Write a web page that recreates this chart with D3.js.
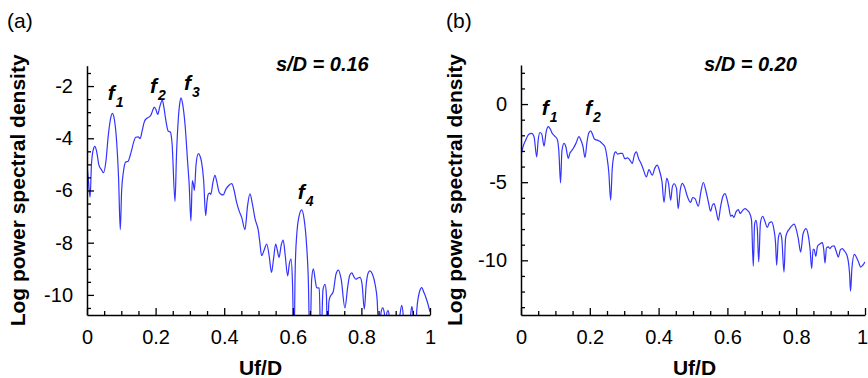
<!DOCTYPE html>
<html>
<head>
<meta charset="utf-8">
<script src="https://cdn.jsdelivr.net/npm/d3@7"></script>
<style>
  html, body { margin: 0; padding: 0; background: #fff; }
  svg { display: block; }
  text { font-family: "Liberation Sans", Arial, Helvetica, sans-serif; fill: #000; }
</style>
</head>
<body>
<svg id="chart" width="868" height="378"></svg>
<script>
// Spectrum for s/D = 0.16 (frequency Uf/D, log power spectral density)
const freqA = [
  0.000, 0.004, 0.009, 0.013, 0.018, 0.023, 0.028, 0.035, 0.042, 0.048,
  0.055, 0.062, 0.068, 0.074, 0.080, 0.0865, 0.092, 0.097, 0.101, 0.106,
  0.113, 0.120, 0.125, 0.130, 0.136, 0.142, 0.149, 0.155, 0.161, 0.167,
  0.173, 0.179, 0.186, 0.191, 0.196, 0.201, 0.206, 0.212, 0.2196, 0.224,
  0.229, 0.237, 0.243, 0.248, 0.2566, 0.261, 0.266, 0.270, 0.274, 0.279,
  0.286, 0.2935, 0.298, 0.303, 0.307, 0.310, 0.313, 0.318, 0.3246, 0.330,
  0.334, 0.340, 0.346, 0.350, 0.354, 0.358, 0.361, 0.367, 0.373, 0.379,
  0.385, 0.391, 0.397, 0.405, 0.414, 0.422, 0.429, 0.436, 0.444, 0.451,
  0.4606, 0.468, 0.475, 0.482, 0.490, 0.4995, 0.504, 0.509, 0.516, 0.524,
  0.531, 0.538, 0.544, 0.550, 0.555, 0.560, 0.566, 0.572, 0.578, 0.585,
  0.590, 0.595, 0.599, 0.6035, 0.607, 0.612, 0.618, 0.626, 0.633, 0.640,
  0.645, 0.650, 0.655, 0.660, 0.665, 0.6696, 0.677, 0.682, 0.688, 0.694,
  0.698, 0.701, 0.705, 0.708, 0.718, 0.726, 0.733, 0.741, 0.752, 0.760,
  0.766, 0.772, 0.778, 0.784, 0.790, 0.796, 0.802, 0.8085, 0.814, 0.820,
  0.825, 0.832, 0.840, 0.846, 0.852, 0.857, 0.862, 0.867, 0.870, 0.874,
  0.8775, 0.881, 0.885, 0.900, 0.912, 0.9175, 0.922, 0.926, 0.943, 0.947,
  0.951, 0.955, 0.962, 0.970, 0.976, 0.982, 0.988, 0.994, 1.000
];
const psdA = [
  -5.0, -5.6, -6.26, -5.0, -4.45, -4.31, -4.5, -5.04, -5.2, -5.32,
  -4.9, -3.9, -3.3, -3.05, -3.3, -4.14, -5.5, -7.5, -6.0, -5.3,
  -4.91, -4.88, -4.7, -4.46, -4.15, -3.96, -3.95, -4.01, -3.7, -3.37,
  -3.25, -3.2, -3.12, -2.95, -2.81, -2.9, -3.09, -2.8, -2.54, -2.8,
  -3.24, -3.73, -3.76, -4.2, -6.42, -4.6, -3.3, -2.7, -2.45, -2.7,
  -3.5, -4.94, -5.8, -7.17, -5.62, -5.75, -6.0, -5.0, -4.59, -4.7,
  -4.91, -5.6, -6.96, -6.4, -6.13, -6.1, -6.15, -5.7, -5.42, -5.7,
  -6.06, -6.15, -6.17, -5.95, -5.8, -5.74, -6.0, -6.45, -6.8, -7.03,
  -7.5, -6.6, -6.13, -6.5, -7.09, -7.54, -8.0, -8.5, -8.3, -8.05,
  -8.5, -9.14, -8.6, -8.05, -8.3, -8.56, -8.1, -7.9, -8.5, -9.27,
  -8.8, -8.63, -9.5, -12.0, -9.0, -7.6, -7.0, -6.74, -7.1, -8.05,
  -9.3, -12.0, -9.4, -9.0, -9.4, -9.72, -9.74, -12.0, -9.8, -9.6,
  -10.0, -12.0, -10.3, -10.1, -9.87, -9.2, -9.05, -9.4, -10.5, -9.7,
  -9.25, -9.16, -9.3, -9.4, -9.35, -9.33, -9.6, -10.55, -9.6, -9.15,
  -9.08, -9.2, -9.6, -10.2, -12.0, -10.7, -10.5, -10.7, -12.0, -10.7,
  -10.6, -10.8, -12.0, -12.0, -10.8, -10.4, -10.8, -12.0, -10.8, -10.45,
  -10.8, -12.0, -10.5, -9.85, -9.72, -9.9, -10.1, -10.35, -10.65
];

// Spectrum for s/D = 0.20
const freqB = [
  0.000, 0.005, 0.0136, 0.022, 0.031, 0.038, 0.0456, 0.050, 0.055, 0.060,
  0.067, 0.073, 0.0794, 0.085, 0.091, 0.098, 0.1055, 0.110, 0.115, 0.119,
  0.125, 0.130, 0.1376, 0.142, 0.147, 0.153, 0.160, 0.1686, 0.174, 0.180,
  0.186, 0.192, 0.197, 0.2026, 0.208, 0.214, 0.222, 0.230, 0.237, 0.244,
  0.250, 0.255, 0.2607, 0.265, 0.270, 0.275, 0.281, 0.288, 0.2946, 0.302,
  0.310, 0.317, 0.3236, 0.329, 0.3353, 0.342, 0.349, 0.356, 0.3644, 0.372,
  0.3817, 0.389, 0.396, 0.403, 0.410, 0.4157, 0.4235, 0.429, 0.435, 0.440,
  0.445, 0.452, 0.457, 0.463, 0.469, 0.476, 0.482, 0.488, 0.493, 0.499,
  0.506, 0.5155, 0.523, 0.530, 0.537, 0.545, 0.551, 0.556, 0.561, 0.567,
  0.5736, 0.580, 0.587, 0.593, 0.599, 0.604, 0.6096, 0.614, 0.619, 0.625,
  0.6317, 0.637, 0.643, 0.651, 0.658, 0.664, 0.670, 0.6753, 0.679, 0.683,
  0.687, 0.691, 0.696, 0.7026, 0.709, 0.716, 0.722, 0.7287, 0.735, 0.740,
  0.7432, 0.748, 0.7529, 0.758, 0.7645, 0.769, 0.7723, 0.780, 0.787, 0.7936,
  0.800, 0.806, 0.813, 0.820, 0.8285, 0.835, 0.840, 0.845, 0.849, 0.852,
  0.857, 0.862, 0.869, 0.876, 0.880, 0.8837, 0.888, 0.8934, 0.898, 0.904,
  0.910, 0.916, 0.9225, 0.928, 0.934, 0.940, 0.946, 0.951, 0.955, 0.958,
  0.962, 0.969, 0.975, 0.981, 0.9875, 0.994, 1.000
];
const psdB = [
  -3.3, -2.8, -2.31, -1.95, -1.88, -2.1, -3.38, -2.3, -1.82, -1.9,
  -2.69, -1.8, -1.45, -1.6, -1.88, -2.05, -2.26, -3.0, -5.04, -3.0,
  -2.52, -2.7, -3.48, -3.15, -2.99, -2.8, -2.5, -2.09, -2.3, -2.7,
  -3.42, -2.4, -1.85, -1.71, -1.95, -2.25, -2.31, -2.4, -2.55, -2.74,
  -3.4, -4.3, -6.15, -4.2, -3.3, -3.06, -3.2, -3.15, -3.16, -3.5,
  -3.45, -3.6, -3.8, -3.3, -3.06, -3.5, -3.8, -4.2, -4.66, -4.2,
  -4.55, -4.1, -3.91, -4.3, -5.0, -6.3, -4.76, -5.1, -6.15, -5.3,
  -5.1, -5.4, -6.69, -5.5, -5.08, -5.35, -5.8, -6.15, -6.3, -5.98,
  -6.05, -6.54, -5.6, -5.02, -5.5, -6.3, -6.86, -6.5, -6.37, -6.8,
  -7.44, -6.6, -5.9, -5.73, -6.1, -6.6, -7.18, -7.1, -7.25, -6.9,
  -6.75, -7.0, -6.85, -6.69, -6.8, -6.95, -7.4, -10.38, -7.7, -7.44,
  -8.0, -10.1, -7.6, -7.18, -7.5, -7.9, -7.6, -7.54, -8.0, -8.9,
  -10.32, -8.6, -8.25, -8.6, -10.75, -8.6, -8.29, -8.0, -7.8, -7.69,
  -8.0, -8.6, -9.47, -8.3, -7.97, -8.4, -9.2, -10.53, -9.3, -9.3,
  -9.75, -9.1, -8.95, -8.87, -9.3, -10.17, -9.2, -9.14, -9.25, -9.1,
  -9.08, -9.4, -9.79, -9.35, -9.25, -9.4, -9.6, -10.0, -10.8, -11.97,
  -10.5, -9.62, -9.8, -10.1, -10.43, -10.3, -10.1
];

// Axis ticks
const xMajorTicks = [0, 0.2, 0.4, 0.6, 0.8, 1];
const yMajorTicksA = [-10, -8, -6, -4, -2];
const yMajorTicksB = [-10, -5, 0];

// Peak annotations: subscript, frequency, level
const peaksA = [
  { sub: "1", x: 0.0603, y: -2.54 },
  { sub: "2", x: 0.1837, y: -2.27 },
  { sub: "3", x: 0.2828, y: -2.15 },
  { sub: "4", x: 0.6143, y: -6.31 }
];
const peaksB = [
  { sub: "1", x: 0.0602, y: -0.705 },
  { sub: "2", x: 0.186, y: -0.705 }
];

const svg = d3.select("#chart");
const lineColor = "#3333ff";

function panel(cfg) {
  const { left, right, top, bottom, yDomain, yMajor, yMinorStep, freq, psd,
          peaks, tag, tagX, caption, captionX, captionY, titleX, xTitleX, id } = cfg;

  const x = d3.scaleLinear().domain([0, 1]).range([left, right]);
  const y = d3.scaleLinear().domain(yDomain).range([bottom, top]);

  // clip the curve to the plotting rectangle
  svg.append("clipPath").attr("id", id)
    .append("rect").attr("x", left).attr("y", top)
    .attr("width", right - left).attr("height", bottom - top);

  const pts = freq.map((f, i) => [f, psd[i]]);
  const line = d3.line().x(d => x(d[0])).y(d => y(d[1])).curve(d3.curveMonotoneX);
  svg.append("path")
    .attr("clip-path", `url(#${id})`)
    .attr("d", line(pts))
    .attr("fill", "none")
    .attr("stroke", lineColor)
    .attr("stroke-width", 1.2)
    .attr("stroke-linejoin", "round");

  // minor ticks
  const xMinor = d3.range(0, 1.0001, 0.05).filter(v => !xMajorTicks.some(t => Math.abs(t - v) < 1e-6));
  const yMinor = [];
  for (let v = Math.ceil(yDomain[0] / yMinorStep) * yMinorStep; v <= yDomain[1] + 1e-9; v += yMinorStep) {
    const r = Math.round(v * 100) / 100;
    if (!yMajor.some(t => Math.abs(t - r) < 1e-6)) yMinor.push(r);
  }

  svg.append("g").attr("transform", `translate(0,${bottom})`)
    .call(d3.axisBottom(x).tickValues(xMinor).tickSize(-4).tickFormat(""))
    .call(g => g.select(".domain").remove())
    .call(g => g.selectAll("line").attr("stroke-width", 1.3));
  svg.append("g").attr("transform", `translate(${left},0)`)
    .call(d3.axisLeft(y).tickValues(yMinor).tickSize(-4).tickFormat(""))
    .call(g => g.select(".domain").remove())
    .call(g => g.selectAll("line").attr("stroke-width", 1.3));

  // major ticks with labels
  svg.append("g").attr("transform", `translate(0,${bottom})`)
    .call(d3.axisBottom(x).tickValues(xMajorTicks).tickSize(-7).tickSizeOuter(0)
      .tickPadding(15).tickFormat(d => String(d)))
    .call(g => g.select(".domain").attr("stroke-width", 1.5))
    .call(g => g.selectAll("line").attr("stroke-width", 1.3))
    .call(g => g.selectAll("text").attr("font-size", 20).attr("font-family", "Liberation Sans, Arial, sans-serif"))
    // keep the label at the far right edge inside the page
    .call(g => g.selectAll(".tick text").filter(d => d === 1 && right > 860).attr("dx", -3));
  svg.append("g").attr("transform", `translate(${left},0)`)
    .call(d3.axisLeft(y).tickValues(yMajor).tickSize(-7).tickSizeOuter(0)
      .tickPadding(14).tickFormat(d => String(d)))
    .call(g => g.select(".domain").attr("stroke-width", 1.5))
    .call(g => g.selectAll("line").attr("stroke-width", 1.3))
    .call(g => g.selectAll("text").attr("font-size", 20).attr("font-family", "Liberation Sans, Arial, sans-serif"));

  // axis titles
  svg.append("text")
    .attr("transform", `translate(${titleX},${(top + bottom) / 2}) rotate(-90)`)
    .attr("text-anchor", "middle")
    .attr("font-size", 21).attr("font-weight", "bold")
    .text("Log power spectral density");
  svg.append("text")
    .attr("x", xTitleX).attr("y", 375)
    .attr("text-anchor", "middle")
    .attr("font-size", 21).attr("font-weight", "bold")
    .text("Uf/D");

  // panel tag and spacing ratio caption
  svg.append("text").attr("x", tagX).attr("y", 28).attr("font-size", 21).text(tag);
  svg.append("text")
    .attr("x", x(captionX)).attr("y", y(captionY))
    .attr("text-anchor", "middle")
    .attr("font-size", 20).attr("font-weight", "bold").attr("font-style", "italic")
    .text(caption);

  // peak labels f1, f2, ...
  peaks.forEach(p => {
    const t = svg.append("text")
      .attr("x", x(p.x)).attr("y", y(p.y))
      .attr("font-weight", "bold").attr("font-style", "italic");
    t.append("tspan").attr("font-size", 21).text("f");
    t.append("tspan").attr("font-size", 14).attr("dx", 1).attr("dy", 7).text(p.sub);
  });
}

panel({
  id: "clipA", left: 87, right: 430, top: 65.7, bottom: 315,
  yDomain: [-10.77, -1.22], yMajor: yMajorTicksA, yMinorStep: 0.5,
  freq: freqA, psd: psdA, peaks: peaksA,
  tag: "(a)", tagX: 7, caption: "s/D = 0.16", captionX: 0.686, captionY: -1.42,
  titleX: 25, xTitleX: 260.5
});
panel({
  id: "clipB", left: 521, right: 865, top: 65, bottom: 315,
  yDomain: [-13.5, 2.5], yMajor: yMajorTicksB, yMinorStep: 1,
  freq: freqB, psd: psdB, peaks: peaksB,
  tag: "(b)", tagX: 446, caption: "s/D = 0.20", captionX: 0.667, captionY: 2.115,
  titleX: 461.7, xTitleX: 694.5
});
</script>
</body>
</html>
